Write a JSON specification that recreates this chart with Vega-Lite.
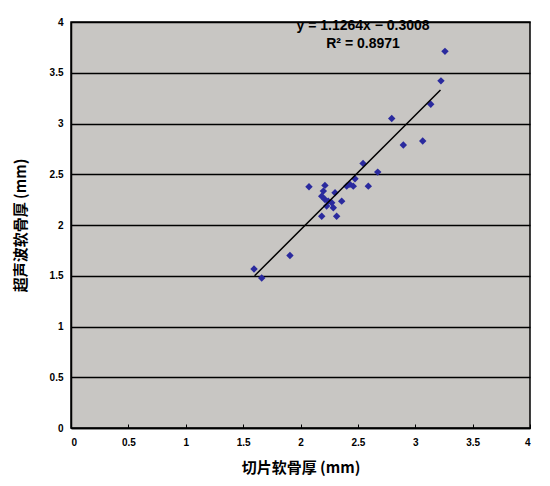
{
  "$schema": "https://vega.github.io/schema/vega-lite/v6.json",
  "width": 459,
  "height": 406,
  "autosize": {"type": "none"},
  "padding": {"left": 71, "top": 22, "right": 20, "bottom": 58},
  "background": "white",
  "config": {
    "view": {"fill": "#c8c6c3", "stroke": "black", "strokeWidth": 1.5},
    "font": "Liberation Sans",
    "axis": {
      "labelFont": "Liberation Sans",
      "labelFontWeight": "bold",
      "labelFontSize": 10,
      "labelColor": "black",
      "domainColor": "black",
      "domainWidth": 1.5,
      "tickColor": "black",
      "titleColor": "black",
      "titleFont": "Noto Sans CJK SC",
      "titleFontWeight": "bold",
      "titleFontSize": 15
    }
  },
  "datasets": {
    "pts": [
      {"slice": 1.595, "us": 1.567},
      {"slice": 1.662, "us": 1.478},
      {"slice": 1.908, "us": 1.699},
      {"slice": 2.074, "us": 2.377},
      {"slice": 2.213, "us": 2.39},
      {"slice": 2.199, "us": 2.334},
      {"slice": 2.185, "us": 2.284},
      {"slice": 2.213, "us": 2.252},
      {"slice": 2.242, "us": 2.235},
      {"slice": 2.301, "us": 2.318},
      {"slice": 2.272, "us": 2.219},
      {"slice": 2.359, "us": 2.235},
      {"slice": 2.286, "us": 2.17},
      {"slice": 2.185, "us": 2.087},
      {"slice": 2.315, "us": 2.087},
      {"slice": 2.403, "us": 2.383},
      {"slice": 2.431, "us": 2.4},
      {"slice": 2.46, "us": 2.383},
      {"slice": 2.475, "us": 2.456},
      {"slice": 2.591, "us": 2.383},
      {"slice": 2.545, "us": 2.607},
      {"slice": 2.673, "us": 2.521},
      {"slice": 2.795, "us": 3.049},
      {"slice": 2.896, "us": 2.788},
      {"slice": 3.065, "us": 2.828},
      {"slice": 3.135, "us": 3.19},
      {"slice": 3.224, "us": 3.42},
      {"slice": 3.259, "us": 3.711},
      {"slice": 2.228, "us": 2.186}
    ],
    "trend": [
      {"slice": 1.6, "us": 1.5},
      {"slice": 3.22, "us": 3.33}
    ],
    "notes": [
      {"line": "y = 1.1264x − 0.3008", "row": 1},
      {"line": "R² = 0.8971", "row": 2}
    ]
  },
  "layer": [
    {
      "data": {"name": "pts"},
      "mark": {"type": "point", "shape": "diamond", "filled": true, "color": "#2a2a9e", "opacity": 1, "size": 55},
      "encoding": {
        "x": {
          "field": "slice", "type": "quantitative",
          "scale": {"domain": [0, 4], "nice": false},
          "axis": {
            "values": [0, 0.5, 1, 1.5, 2, 2.5, 3, 3.5, 4],
            "format": "~g",
            "grid": false,
            "tickSize": -4,
            "labelPadding": 13,
            "title": "切片软骨厚 (mm)",
            "titlePadding": 13
          }
        },
        "y": {
          "field": "us", "type": "quantitative",
          "scale": {"domain": [0, 4], "nice": false},
          "axis": {
            "values": [0, 0.5, 1, 1.5, 2, 2.5, 3, 3.5, 4],
            "format": "~g",
            "grid": true,
            "gridColor": "black",
            "gridWidth": 1.5,
            "gridOpacity": 1,
            "tickSize": -4,
            "labelPadding": 12,
            "title": "超声波软骨厚 (mm)",
            "titlePadding": 21
          }
        }
      }
    },
    {
      "data": {"name": "trend"},
      "mark": {"type": "line", "color": "black", "strokeWidth": 1.5},
      "encoding": {
        "x": {"field": "slice", "type": "quantitative"},
        "y": {"field": "us", "type": "quantitative"}
      }
    },
    {
      "data": {"name": "notes"},
      "transform": [{"filter": "datum.row == 1"}],
      "mark": {"type": "text", "font": "Liberation Sans", "fontWeight": "bold", "fontSize": 14, "color": "black", "align": "center", "baseline": "middle"},
      "encoding": {
        "x": {"datum": 2.545, "type": "quantitative"},
        "y": {"datum": 3.96, "type": "quantitative"},
        "text": {"field": "line"}
      }
    },
    {
      "data": {"name": "notes"},
      "transform": [{"filter": "datum.row == 2"}],
      "mark": {"type": "text", "font": "Liberation Sans", "fontWeight": "bold", "fontSize": 14, "color": "black", "align": "center", "baseline": "middle"},
      "encoding": {
        "x": {"datum": 2.545, "type": "quantitative"},
        "y": {"datum": 3.78, "type": "quantitative"},
        "text": {"field": "line"}
      }
    }
  ]
}
